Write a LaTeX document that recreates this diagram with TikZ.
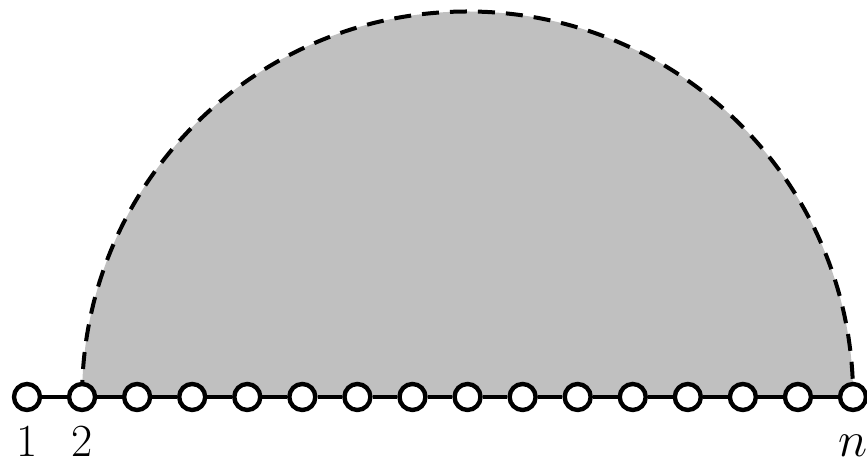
\documentclass[tikz,border=0pt]{standalone}
\definecolor{fillgray}{RGB}{192,192,192}
\begin{document}
\begin{tikzpicture}[x=0.5pt,y=0.5pt,
  vertex/.style={circle,draw,fill=white,line width=2.2pt,minimum size=13pt,inner sep=0pt},
  link/.style={line width=1.9pt},
  rim/.style={line width=2pt,dash pattern=on 8.5pt off 5.5pt},
  lbl/.style={font=\fontsize{23}{27}\selectfont,anchor=base,inner sep=0pt}]
\useasboundingbox (0,0) rectangle (867,464);
\fill[fillgray] (82.07,67) arc[start angle=180,end angle=0,radius=192.75pt] -- cycle;
\draw[rim] (82.07,67) arc[start angle=180,end angle=0,radius=192.75pt];
\foreach \i in {1,...,16} {
  \node[vertex] (v\i) at ({27+55.067*(\i-1)},67) {};
}
\foreach \i [evaluate=\i as \j using int(\i+1)] in {1,...,15} {
  \draw[link] (v\i) -- (v\j);
}
\node[lbl] (l1) at (27,7) {1};
\node[lbl] (l2) at (82.07,7) {2};
\node[lbl] (ln) at (853,7) {$n$};
\end{tikzpicture}
\end{document}
